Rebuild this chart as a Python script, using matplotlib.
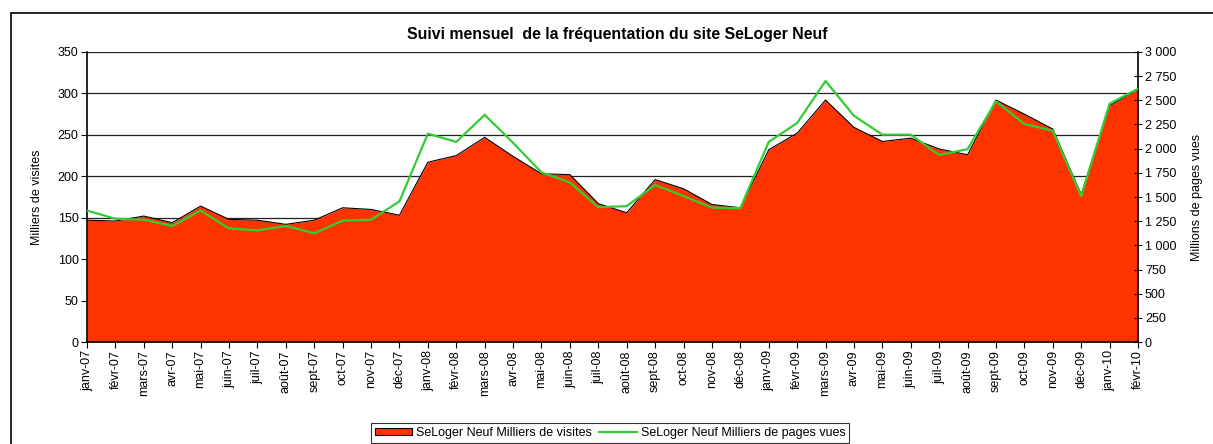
import matplotlib.pyplot as plt
from matplotlib.patches import Rectangle
from matplotlib.ticker import FuncFormatter, MultipleLocator

plt.rcParams['font.family'] = ['Liberation Sans', 'DejaVu Sans']

# ── Data ───────────────────────────────────────────────────────────────────────
months = ["janv-07", "févr-07", "mars-07", "avr-07", "mai-07", "juin-07", "juil-07",
          "août-07", "sept-07", "oct-07", "nov-07", "déc-07",
          "janv-08", "févr-08", "mars-08", "avr-08", "mai-08", "juin-08", "juil-08",
          "août-08", "sept-08", "oct-08", "nov-08", "déc-08",
          "janv-09", "févr-09", "mars-09", "avr-09", "mai-09", "juin-09", "juil-09",
          "août-09", "sept-09", "oct-09", "nov-09", "déc-09",
          "janv-10", "févr-10"]

visites = [147, 146, 152, 144, 164, 148, 147, 142, 147, 162, 160, 153,
           217, 225, 247, 224, 203, 202, 167, 156, 196, 185, 166, 162,
           232, 252, 292, 259, 242, 246, 233, 226, 292, 275, 257, 178,
           285, 305]

pages_vues = [1360, 1275, 1265, 1200, 1360, 1175, 1155, 1200, 1125, 1255, 1265, 1455,
              2155, 2070, 2350, 2060, 1755, 1650, 1395, 1405, 1625, 1510, 1390, 1385,
              2070, 2265, 2700, 2340, 2145, 2145, 1935, 1995, 2490, 2255, 2185, 1510,
              2465, 2620]

RED = "#FF3300"
GREEN = "#33CC33"
FS = 9

# ── Figure ─────────────────────────────────────────────────────────────────────
W, H = 1213, 444
fig = plt.figure(figsize=(W / 100, H / 100), dpi=100)
ax = fig.add_axes([87 / W, (H - 342) / H, (1138 - 87) / W, (342 - 52) / H])

x = range(len(months))
ax.fill_between(x, visites, 0, color=RED, lw=0, zorder=2,
                label="SeLoger Neuf Milliers de visites")
ax.plot(x, visites, color="black", lw=0.8, zorder=3)

ax.set_xlim(0, len(months) - 1)
ax.set_ylim(0, 350)
ax.yaxis.set_major_locator(MultipleLocator(50))
ax.grid(axis="y", color="#222222", lw=0.9, zorder=1)
ax.set_xticks(list(x))
ax.set_xticklabels(months, rotation=90, fontsize=FS)
ax.tick_params(axis="x", direction="out", length=4, pad=2)
ax.tick_params(axis="y", direction="out", length=4, labelsize=FS, pad=2)
for s in ["top", "right"]:
    ax.spines[s].set_visible(False)
ax.spines["left"].set_linewidth(1.2)
ax.spines["bottom"].set_linewidth(1.2)

ax2 = ax.twinx()
ax2.plot(x, pages_vues, color=GREEN, lw=1.6, zorder=4,
         label="SeLoger Neuf Milliers de pages vues")
ax2.set_ylim(0, 3000)
ax2.yaxis.set_major_locator(MultipleLocator(250))
ax2.yaxis.set_major_formatter(FuncFormatter(lambda v, p: f"{int(v):,}".replace(",", " ")))
ax2.tick_params(axis="y", direction="inout", length=6, labelsize=FS, pad=2)
for s in ["top", "left", "bottom"]:
    ax2.spines[s].set_visible(False)
ax2.spines["right"].set_linewidth(1.2)

fig.text(617 / W, 1 - 35 / H, "Suivi mensuel  de la fréquentation du site SeLoger Neuf",
         ha="center", va="center", fontsize=11.4, fontweight="bold")
fig.text(37 / W, 1 - 197 / H, "Milliers de visites", rotation=90,
         ha="center", va="center", fontsize=FS)
fig.text(1197 / W, 1 - 197 / H, "Millions de pages vues", rotation=90,
         ha="center", va="center", fontsize=FS)

h1, l1 = ax.get_legend_handles_labels()
h2, l2 = ax2.get_legend_handles_labels()
h1 = [Rectangle((0, 0), 1, 1, facecolor=RED, edgecolor="black", lw=0.8)]
leg = fig.legend(h1 + h2, l1 + l2, loc="center", ncol=2,
                 bbox_to_anchor=(610 / W, 1 - 433 / H), fontsize=FS,
                 frameon=True, fancybox=False, edgecolor="black",
                 handlelength=3.0, handleheight=0.5, handletextpad=0.3,
                 columnspacing=0.6, borderpad=0.3)
leg.get_frame().set_linewidth(0.8)

fig.add_artist(Rectangle((11 / W, -0.1), 1.2, 1 - 13 / H + 0.1, transform=fig.transFigure,
                         fill=False, edgecolor="black", lw=1.2))

fig.savefig("out.png", dpi=100)
